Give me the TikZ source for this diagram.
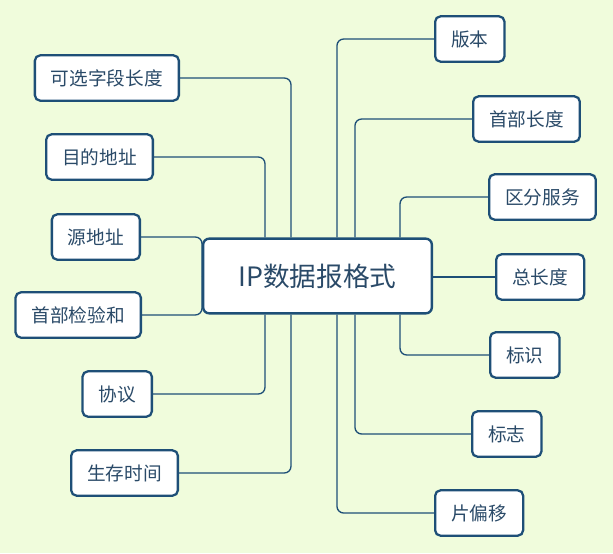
\documentclass[tikz,border=0pt]{standalone}
\usepackage{fontspec}
\setmainfont{Noto Sans CJK SC}
\usetikzlibrary{backgrounds}
\definecolor{mapbg}{HTML}{F0FCDC}
\definecolor{mapline}{HTML}{1E4F77}
\definecolor{maptext}{HTML}{2A4A68}
\tikzset{%
	root topic/.style={
		rectangle,
		rounded corners=4.5pt,
		draw=mapline,
		line width=1.8pt,
		fill=white,
		text=maptext,
		font=\fontsize{20}{24}\selectfont,
		minimum width=171.5pt,
		minimum height=56pt
	},
	sub topic/.style={
		rectangle,
		rounded corners=4pt,
		draw=mapline,
		line width=1.7pt,
		fill=white,
		text=maptext,
		font=\fontsize{14}{16}\selectfont,
		inner xsep=12pt,
		minimum height=34pt
	},
	branch/.style={
		draw=mapline,
		line width=1pt,
		rounded corners=5pt
	},
}
\begin{document}
\begin{tikzpicture}[x=0.75pt,y=-0.75pt]
		% Layers
		\node [root topic] (root) at (317.5,276) {IP数据报格式};
		
		\node [sub topic,anchor=east] (optlen) at (180,78) {可选字段长度};
		\node [sub topic,anchor=east] (dstaddr) at (154,157) {目的地址};
		\node [sub topic,anchor=east] (srcaddr) at (141,237) {源地址};
		\node [sub topic,anchor=east] (checksum) at (142,315) {首部检验和};
		\node [sub topic,anchor=east] (proto) at (153,394) {协议};
		\node [sub topic,anchor=east] (ttl) at (179,473) {生存时间};
		
		\node [sub topic,anchor=west] (version) at (434,39) {版本};
		\node [sub topic,anchor=west] (hdrlen) at (472,119) {首部长度};
		\node [sub topic,anchor=west] (tos) at (488,197) {区分服务};
		\node [sub topic,anchor=west] (totlen) at (495,277) {总长度};
		\node [sub topic,anchor=west] (ident) at (489,355) {标识};
		\node [sub topic,anchor=west] (flags) at (471,434) {标志};
		\node [sub topic,anchor=west] (offset) at (434,513) {片偏移};
		
		%Edges
		\begin{pgfonlayer}{background}
		\fill[mapbg] (0,0) rectangle (613,553);
		\draw [branch] (optlen.east) -| ([xshift=-19.9pt]root.north);
		\draw [branch] (dstaddr.east) -| ([xshift=-39.4pt]root.north);
		\draw [branch] (srcaddr.east) -| (root.west);
		\draw [branch] (checksum.east) -| (root.west);
		\draw [branch] (proto.east) -| ([xshift=-39.4pt]root.south);
		\draw [branch] (ttl.east) -| ([xshift=-19.9pt]root.south);
		
		\draw [branch] (version.west) -| ([xshift=14.6pt]root.north);
		\draw [branch] (hdrlen.west) -| ([xshift=28.1pt]root.north);
		\draw [branch] (tos.west) -| ([xshift=61.9pt]root.north);
		\draw [branch] (totlen.west) -- (totlen.west -| root.east);
		\draw [branch] (ident.west) -| ([xshift=61.9pt]root.south);
		\draw [branch] (flags.west) -| ([xshift=28.1pt]root.south);
		\draw [branch] (offset.west) -| ([xshift=14.6pt]root.south);
		\end{pgfonlayer}
		
\end{tikzpicture}
\end{document}
